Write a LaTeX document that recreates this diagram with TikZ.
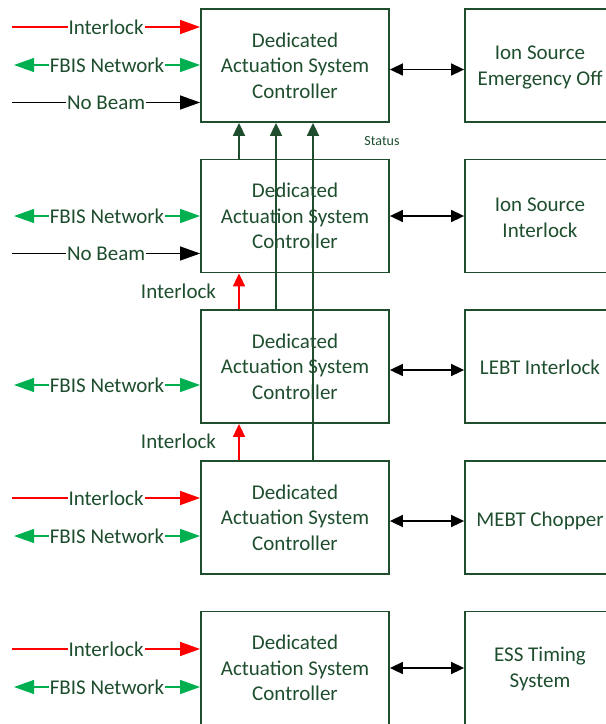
\documentclass[tikz,border=0pt]{standalone}
\usepackage{fontspec}
\setmainfont{Carlito}
\usetikzlibrary{arrows.meta,calc}
\definecolor{dkgreen}{RGB}{30,78,46}
\definecolor{fbgreen}{RGB}{0,176,80}
\definecolor{ilred}{RGB}{255,0,0}
\begin{document}
\begin{tikzpicture}[x=1pt,y=-1pt,
  txt/.style={font=\fontsize{21}{25.5}\selectfont, text=dkgreen, align=center},
  dasc/.style={txt, draw=dkgreen, line width=1.8pt, minimum width=188pt, minimum height=113pt, inner sep=0pt},
  ext/.style={draw=dkgreen, line width=1.8pt, minimum width=150pt, minimum height=113pt, inner sep=0pt},
  lbl/.style={txt, fill=white, inner sep=1pt},
  bigtip/.tip={Triangle[length=20pt,width=14pt]},
  smalltip/.tip={Triangle[length=13pt,width=12pt]},
  ilarr/.style={draw=ilred, line width=1.3pt, -bigtip, fill=ilred},
  fbarr/.style={draw=fbgreen, line width=1.3pt, bigtip-bigtip, fill=fbgreen},
  nbarr/.style={draw=black, line width=1.3pt, -bigtip},
  linkarr/.style={draw=black, line width=1.6pt, smalltip-smalltip},
  statarr/.style={draw=dkgreen, line width=1.8pt, -smalltip},
  uparr/.style={draw=ilred, line width=1.8pt, -smalltip}]
\useasboundingbox (0,0) rectangle (606,724);
\clip (0,0) rectangle (606,724);

% controllers
\node[dasc] (b1) at (295,65.5)  {Dedicated\\Actuation System\\Controller};
\node[dasc] (b2) at (295,216)   {Dedicated\\Actuation System\\Controller};
\node[dasc] (b3) at (295,366.5) {Dedicated\\Actuation System\\Controller};
\node[dasc] (b4) at (295,517.5) {Dedicated\\Actuation System\\Controller};
\node[dasc] (b5) at (295,668)   {Dedicated\\Actuation System\\Controller};

% external systems: frames, then their titles
\node[ext] (e1) at (540,65.5)  {};
\node[ext] (e2) at (540,216)   {};
\node[ext] (e3) at (540,366.5) {};
\node[ext] (e4) at (540,517.5) {};
\node[ext] (e5) at (540,668)   {};
\node[txt] (t1) at ($(e1.center)+(0,2)$)   {Ion Source\\Emergency Off};
\node[txt] (t2) at ($(e2.center)+(0,2)$)   {Ion Source\\Interlock};
\node[txt] (t3) at ($(e3.center)+(0,0.5)$) {LEBT Interlock};
\node[txt] (t4) at ($(e4.center)+(0,3)$)   {MEBT Chopper};
\node[txt] (t5) at ($(e5.center)+(0,1)$)   {ESS Timing\\System};

% heights of the links to external systems
\coordinate (l1) at (0,69.5);
\coordinate (l2) at (0,216);
\coordinate (l3) at (0,370);
\coordinate (l4) at (0,521);
\coordinate (l5) at (0,668);

% links to external systems
\draw[linkarr] (b1.east |- l1) -- (e1.west |- l1);
\draw[linkarr] (b2.east |- l2) -- (e2.west |- l2);
\draw[linkarr] (b3.east |- l3) -- (e3.west |- l3);
\draw[linkarr] (b4.east |- l4) -- (e4.west |- l4);
\draw[linkarr] (b5.east |- l5) -- (e5.west |- l5);

% free ends of the input lines
\coordinate (s1a) at (12,27);   \coordinate (s1b) at (14,65);  \coordinate (s1c) at (12,102.5);
\coordinate (s2b) at (14,216);  \coordinate (s2c) at (12,253.5);
\coordinate (s3b) at (14,385);
\coordinate (s4a) at (12,498);  \coordinate (s4b) at (14,536);
\coordinate (s5a) at (12,649);  \coordinate (s5b) at (14,687);

% inputs, controller 1
\draw[ilarr] (s1a) -- (s1a -| b1.west) node[lbl,midway] {Interlock};
\draw[fbarr] (s1b) -- (s1b -| b1.west) node[lbl,midway] {FBIS Network};
\draw[nbarr] (s1c) -- (s1c -| b1.west) node[lbl,midway] {No Beam};
% inputs, controller 2
\draw[fbarr] (s2b) -- (s2b -| b2.west) node[lbl,midway] {FBIS Network};
\draw[nbarr] (s2c) -- (s2c -| b2.west) node[lbl,midway] {No Beam};
% inputs, controller 3
\draw[fbarr] (s3b) -- (s3b -| b3.west) node[lbl,midway] {FBIS Network};
% inputs, controller 4
\draw[ilarr] (s4a) -- (s4a -| b4.west) node[lbl,midway] {Interlock};
\draw[fbarr] (s4b) -- (s4b -| b4.west) node[lbl,midway] {FBIS Network};
% inputs, controller 5
\draw[ilarr] (s5a) -- (s5a -| b5.west) node[lbl,midway] {Interlock};
\draw[fbarr] (s5b) -- (s5b -| b5.west) node[lbl,midway] {FBIS Network};

% vertical columns
\coordinate (xa) at (239,0);
\coordinate (xb) at (276,0);
\coordinate (xc) at (313,0);

% status lines up to controller 1
\draw[statarr] (b2.north -| xa) -- (b1.south -| xa);
\draw[statarr] (b3.north -| xb) -- (b1.south -| xb);
\draw[statarr] (b4.north -| xc) -- (b1.south -| xc);
\node[font=\fontsize{14}{16}\selectfont, text=dkgreen] (st) at (382,141) {Status};

% interlock chain
\draw[uparr] (b3.north -| xa) -- (b2.south -| xa);
\draw[uparr] (b4.north -| xa) -- (b3.south -| xa);
\node[txt] (il2) at (178.5,291) {Interlock};
\node[txt] (il3) at (178.5,441.5) {Interlock};
\end{tikzpicture}
\end{document}
